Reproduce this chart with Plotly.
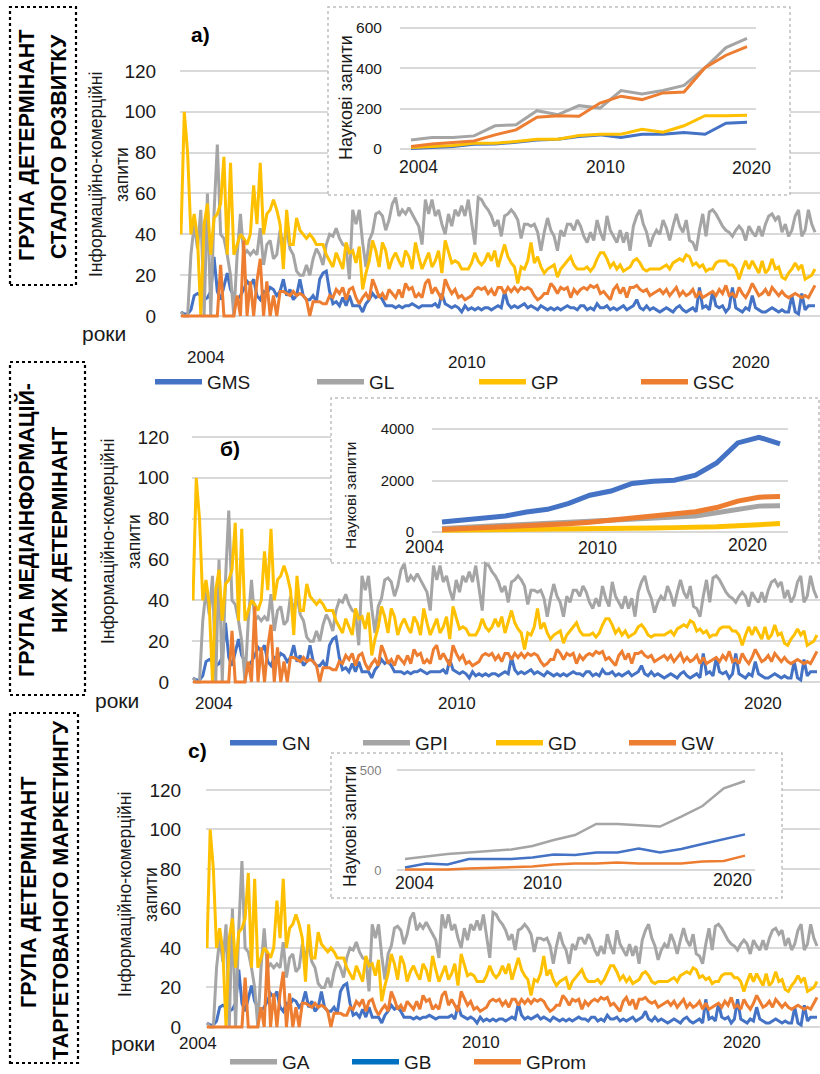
import plotly.graph_objects as go

W, H = 820, 1074

# ---------------- DATA ----------------
# Main (information-commercial queries), same four series in every panel
main_blue = [2,1,1,3,10,11,10,8,9,12,29,12,8,15,21,13,10,8,10,13,17,15,18,10,8,12,11,14,13,10,12,18,10,13,8,10,18,10,8,8,10,7,18,21,22,12,
             6,7,5,9,5,10,5,5,5,2,6,8,11,9,10,8,5,5,5,4,5,4,5,5,6,5,4,5,5,5,5,6,4,11,6,5,4,5,4,2,5,3,4,3,4,3,4,4,3,4,
             5,4,12,6,4,5,4,5,6,4,5,4,3,5,4,3,4,3,4,3,4,5,4,4,3,5,5,3,4,3,6,4,4,5,3,4,3,4,5,3,4,5,8,4,3,5,3,4,3,
             2,3,4,3,2,4,5,3,2,3,4,2,14,4,5,3,12,5,4,5,2,4,14,4,3,2,4,3,10,4,3,2,2,3,4,3,2,3,2,2,10,2,1,11,3,5,5,5]
main_gray = [2,0,0,30,45,33,52,0,60,0,50,84,40,38,30,20,0,30,50,30,32,30,32,30,43,25,35,37,28,30,42,35,42,33,30,22,20,20,25,20,28,33,30,25,35,40,
             39,43,38,35,34,18,52,45,52,36,24,37,41,50,51,49,42,47,55,58,49,52,50,53,50,47,44,35,57,50,57,49,52,45,40,50,44,52,49,54,49,57,45,35,58,57,54,52,49,44,
             47,39,49,50,52,50,47,38,45,45,44,45,41,32,41,48,42,39,32,42,39,45,45,42,47,44,39,36,41,37,47,41,37,49,42,39,36,42,36,41,32,44,49,52,45,41,34,39,42,
             40,47,43,37,44,50,44,41,47,37,36,32,42,50,39,51,52,50,47,44,42,41,39,42,44,42,37,44,41,39,44,39,45,49,50,47,49,41,45,39,42,49,52,39,42,52,45,41]
main_yellow = [40,100,80,40,50,38,0,45,55,30,48,50,55,78,30,75,30,35,40,38,35,40,64,45,75,40,50,52,57,52,45,23,52,35,35,48,42,40,38,40,38,35,35,35,30,27,
               24,31,27,23,36,31,32,26,34,13,21,27,37,32,24,36,32,23,28,31,27,24,32,29,23,36,29,23,27,31,24,27,32,21,37,31,26,27,26,23,23,23,26,31,27,25,27,31,27,32,
               24,29,35,29,26,24,16,24,23,27,36,26,29,24,21,23,24,25,19,23,25,27,29,25,23,23,23,24,22,24,28,31,31,28,24,26,23,25,22,23,24,27,28,26,23,22,23,23,23,
               23,24,25,23,26,27,28,27,30,29,25,26,24,25,22,23,23,26,27,27,27,25,25,23,18,23,27,23,27,24,21,27,21,23,28,23,24,19,18,21,23,26,23,25,18,19,20,23]
main_orange = [0,0,0,0,0,0,0,0,0,0,0,0,25,0,0,0,0,10,0,37,0,17,0,17,28,0,17,0,10,0,12,12,11,10,12,10,11,10,8,0,7,7,7,6,6,10,
               9,13,11,14,8,13,14,9,6,9,11,8,18,14,9,11,8,13,11,9,13,9,16,13,14,9,11,9,16,18,11,14,11,8,18,14,11,13,9,10,8,9,10,13,14,13,14,11,13,10,
               14,14,11,14,12,14,12,14,13,14,13,10,8,9,11,11,16,14,11,14,13,14,9,13,11,13,14,13,15,14,15,11,12,10,8,13,15,11,14,9,14,14,15,13,12,13,10,11,12,
               13,11,13,10,12,14,10,12,10,11,13,9,12,9,10,11,12,10,13,11,15,10,11,9,14,11,9,12,16,13,10,11,13,10,14,12,10,12,10,9,10,11,10,9,10,9,12,15]
main_idx = list(range(len(main_blue)))
main_tick_text = ["2004", "2010", "2020"]
main_y_ticks = [0, 20, 40, 60, 80, 100, 120]

# Inset a (scientific queries)
ins_a_gms = [3,7,12,23,25,33,45,48,62,70,57,73,73,82,73,128,133]
ins_a_gl = [45,57,57,65,115,120,190,170,215,203,290,273,290,315,403,503,548]
ins_a_gp = [8,12,17,28,28,37,48,48,67,73,73,98,83,115,165,165,167]
ins_a_gsc = [12,25,32,40,70,95,158,165,162,228,262,245,278,283,403,465,508]
# Inset b
ins_b_gn = [387,450,530,620,775,880,1110,1430,1590,1885,1975,2010,2205,2680,3460,3680,3420]
ins_b_gpi = [140,180,220,260,300,320,360,400,440,515,530,555,620,750,880,1005,1020]
ins_b_gd = [65,70,75,85,90,100,110,120,130,150,160,170,175,200,240,280,330]
ins_b_gw = [100,130,160,190,230,270,320,380,460,560,640,700,790,950,1200,1350,1380]
# Inset c
ins_c_ga = [55,67,80,88,95,103,120,150,175,230,230,222,217,267,320,408,445]
ins_c_gb = [12,33,28,55,55,55,62,78,75,88,88,108,88,105,130,153,178]
ins_c_gprom = [3,3,3,8,12,13,17,28,33,33,38,33,33,33,42,45,72]
ins_idx = list(range(len(ins_a_gms)))
ins_tick_text = ["2004", "2010", "2020"]

BLUE, GRAY, YELLOW, ORANGE, BLUE2 = "#4472C4", "#A5A5A5", "#FFC000", "#ED7D31", "#0070C0"

FONT = "Liberation Sans, Arial, sans-serif"
TXT = "#1a1a1a"

# ---------------- helpers (pixel layout) ----------------
def px(x): return x / W
def py(y): return 1 - y / H

def ydom(v_lo, p_lo, v_hi, p_hi, r_lo, r_hi):
    k = (p_lo - p_hi) / (v_hi - v_lo)
    bot = p_lo + (v_lo - r_lo) * k
    top = p_hi - (r_hi - v_hi) * k
    return [1 - bot / H, 1 - top / H], bot, top

def xrng(d0, d1, p0, p1, i0, i1):
    k = (p1 - p0) / (i1 - i0)
    return [i0 - (p0 - d0) / k, i1 + (d1 - p1) / k]

fig = go.Figure()

N = len(main_idx) - 1
NI = len(ins_idx) - 1
YR = [-1.5, 121.5]
main_specs = [  # (xaxis id, yaxis id, domain x px, first px, last px, y0 px, y120 px, ticklen)
    ("x", "y", 180, 820, 181, 815, 316, 71, 19),
    ("x3", "y3", 192, 820, 193, 817, 682, 437, 18),
    ("x5", "y5", 206, 820, 207, 817, 1027, 790, 20),
]
layout_axes = {}
geom = {}
for xa, ya, d0, d1, p0, p1, y0, y120, tl in main_specs:
    for vals, col in ((main_blue, BLUE), (main_gray, GRAY), (main_yellow, YELLOW), (main_orange, ORANGE)):
        fig.add_trace(go.Scatter(x=main_idx, y=vals, mode="lines", line=dict(color=col, width=3),
                                 xaxis=xa, yaxis=ya, showlegend=False, hoverinfo="skip"))
    dom, bot, top = ydom(0, y0, 120, y120, YR[0], YR[1])
    xr = xrng(d0, d1, p0, p1, 0, N)
    geom[xa] = (d0, d1, xr, bot, top)
    layout_axes["xaxis" + xa[1:]] = dict(domain=[px(d0), px(d1)], range=xr,
                                         showgrid=False, zeroline=False, showticklabels=False, anchor=ya,
                                         fixedrange=True)
    layout_axes["yaxis" + ya[1:]] = dict(domain=dom, range=YR, tickvals=main_y_ticks, showgrid=True,
                                         gridcolor="#D9D9D9", gridwidth=1.5, zeroline=False, ticks="outside",
                                         ticklen=tl, tickcolor="rgba(0,0,0,0)",
                                         tickfont=dict(family=FONT, size=19, color=TXT),
                                         anchor=xa, fixedrange=True)

inset_specs = [
    ("x2", "y2", 400, 756, 411, 747, 149, 28, 0, 600, -15, 615, [0, 200, 400, 600], 14, 15.5, TXT, 3,
     ((ins_a_gms, BLUE), (ins_a_gl, GRAY), (ins_a_gp, YELLOW), (ins_a_gsc, ORANGE))),
    ("x4", "y4", 432, 788, 442, 780, 532, 429, 0, 4000, -200, 4300, [0, 2000, 4000], 14, 15, TXT, 5,
     ((ins_b_gn, BLUE), (ins_b_gpi, GRAY), (ins_b_gd, YELLOW), (ins_b_gw, ORANGE))),
    ("x6", "y6", 397, 755, 405, 745, 870, 770, 0, 500, -15, 530, [0, 500], 12, 13, "#7f7f7f", 2.5,
     ((ins_c_ga, GRAY), (ins_c_gb, BLUE), (ins_c_gprom, ORANGE))),
]
for (xa, ya, d0, d1, p0, p1, yp0, yp1, v0, v1, r0, r1, tv, tl, fs, fc, lw, series) in inset_specs:
    for vals, col in series:
        fig.add_trace(go.Scatter(x=ins_idx, y=vals, mode="lines", line=dict(color=col, width=lw),
                                 xaxis=xa, yaxis=ya, showlegend=False, hoverinfo="skip"))
    dom, _, _ = ydom(v0, yp0, v1, yp1, r0, r1)
    layout_axes["xaxis" + xa[1:]] = dict(domain=[px(d0), px(d1)], range=xrng(d0, d1, p0, p1, 0, NI),
                                         showgrid=False, zeroline=False, showticklabels=False, anchor=ya,
                                         fixedrange=True)
    layout_axes["yaxis" + ya[1:]] = dict(domain=dom, range=[r0, r1], tickvals=tv, showgrid=True,
                                         gridcolor="#D9D9D9", gridwidth=1.5, zeroline=False, ticks="outside",
                                         ticklen=tl, tickcolor="rgba(0,0,0,0)",
                                         tickfont=dict(family=FONT, size=fs, color=fc), anchor=xa,
                                         fixedrange=True)

# legend proxies
legend_sets = [
    ("legend", [("GMS", BLUE), ("GL", GRAY), ("GP", YELLOW), ("GSC", ORANGE)]),
    ("legend2", [("GN", BLUE), ("GPI", GRAY), ("GD", YELLOW), ("GW", ORANGE)]),
    ("legend3", [("GA", GRAY), ("GB", BLUE2), ("GProm", ORANGE)]),
]
for lg, items in legend_sets:
    for name, col in items:
        fig.add_trace(go.Scatter(x=[None], y=[None], mode="lines", name=name, line=dict(color=col, width=5.5),
                                 legend=lg, showlegend=True, hoverinfo="skip"))

# ---------------- shapes ----------------
shapes = []
boxes = [("x", "y", 328, 7, 790, 195), ("x3", "y3", 331, 398, 819, 563), ("x5", "y5", 331, 753, 782, 898)]
for xa, ya, bx0, by0, bx1, by1 in boxes:
    d0, d1, xr, bot, top = geom[xa]
    def dx(p): return xr[0] + (p - d0) / (d1 - d0) * (xr[1] - xr[0])
    def dy(p): return YR[0] + (bot - p) / (bot - top) * (YR[1] - YR[0])
    # white panel hiding the main gridlines behind the inset
    shapes.append(dict(type="rect", xref=xa, yref=ya, x0=dx(bx0), x1=dx(bx1), y0=dy(by1), y1=dy(max(by0, top)),
                       fillcolor="white", line=dict(width=0), layer="between"))
    shapes.append(dict(type="rect", xref="paper", yref="paper", x0=px(bx0), x1=px(bx1), y0=py(by1), y1=py(by0),
                       line=dict(color="#BFBFBF", width=1.5, dash="dot"), layer="above"))
# group boxes
for x0, y0, x1, y1 in [(10, 7, 76, 285), (10, 362, 85, 695), (10, 713, 78, 1063)]:
    shapes.append(dict(type="rect", xref="paper", yref="paper", x0=px(x0), x1=px(x1), y0=py(y1), y1=py(y0),
                       line=dict(color="#000000", width=2.2, dash="dot"), layer="above"))

# ---------------- annotations ----------------
ann = []
def text(t, x, y, size, angle=0, color=TXT, bold=False):
    ann.append(dict(text=("<b>%s</b>" % t) if bold else t, x=px(x), y=py(y), xref="paper", yref="paper",
                    showarrow=False, textangle=angle, xanchor="center", yanchor="middle",
                    font=dict(family=FONT, size=size, color=color)))

# group titles
text("ГРУПА ДЕТЕРМІНАНТ", 27, 146, 21.5, angle=-90, bold=True, color="#000")
text("СТАЛОГО РОЗВИТКУ", 59, 146, 21.5, angle=-90, bold=True, color="#000")
text("ГРУПА МЕДІАІНФОРМАЦІЙ-", 26, 530, 21.5, angle=-90, bold=True, color="#000")
text("НИХ ДЕТЕРМІНАНТ", 60, 530, 21.5, angle=-90, bold=True, color="#000")
text("ГРУПА ДЕТЕРМІНАНТ", 29, 893, 21.5, angle=-90, bold=True, color="#000")
text("ТАРГЕТОВАНОГО МАРКЕТИНГУ", 61, 890, 21.5, angle=-90, bold=True, color="#000")
# panel labels
text("а)", 200, 34, 21, bold=True, color="#000")
text("б)", 230, 448, 21, bold=True, color="#000")
text("c)", 197, 750, 21, bold=True, color="#000")
# main y titles
for (x1, x2, yc) in [(96, 122, 175), (108, 134, 542), (125, 151, 895)]:
    text("Інформаційно-комерційні", x1, yc, 17.5, angle=-90)
    text("запити", x2, yc, 17.5, angle=-90)
# "роки"
for (x, y) in [(104, 333), (117, 700), (133, 1043)]:
    text("роки", x, y, 21)
# main x labels
for pos in [[(206, 358), (467, 362), (751, 362)], [(214, 703), (457, 703), (763, 703)],
            [(198, 1043), (481, 1042), (742, 1042)]]:
    for t, (x, y) in zip(main_tick_text, pos):
        text(t, x, y, 17)
# inset x labels
for pos in [[(418, 167), (605, 167), (751, 168)], [(424, 547), (597, 548), (747, 545)],
            [(414, 883), (542, 883), (732, 880)]]:
    for t, (x, y) in zip(ins_tick_text, pos):
        text(t, x, y, 17.5)
# inset y titles
text("Наукові запити", 346, 98, 18, angle=-90)
text("Наукові запити", 350, 495, 15.5, angle=-90)
text("Наукові запити", 350, 827, 17.5, angle=-90)

leg_common = dict(orientation="h", xanchor="left", yanchor="middle", bgcolor="rgba(0,0,0,0)",
                  font=dict(family=FONT, size=19, color=TXT), itemwidth=47, entrywidthmode="pixels",
                  tracegroupgap=0)

fig.update_layout(
    width=W, height=H, margin=dict(l=0, r=0, t=0, b=0, autoexpand=False),
    paper_bgcolor="white", plot_bgcolor="rgba(0,0,0,0)",
    showlegend=True, shapes=shapes, annotations=ann,
    legend=dict(x=px(150), y=py(382), entrywidth=100, **leg_common),
    legend2=dict(x=px(225), y=py(743), entrywidth=71, **leg_common),
    legend3=dict(x=px(225), y=py(1062), entrywidth=60, **leg_common),
    **layout_axes,
)

fig.write_html("out.html", config={"displayModeBar": False},
               post_script="document.body.style.margin='0px';document.body.style.overflow='hidden';")
